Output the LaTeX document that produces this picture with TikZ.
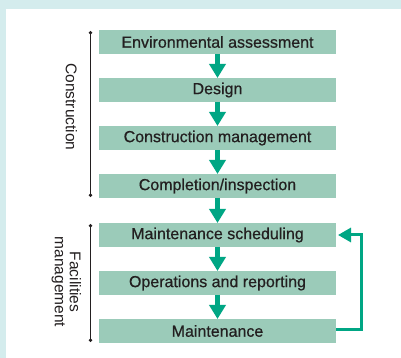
\documentclass[tikz,border=0pt]{standalone}
\usepackage{fontspec}
\setmainfont{Liberation Sans}
\newfontfamily\boxfont[FakeBold=0.6]{Liberation Sans}
\usetikzlibrary{arrows.meta}
\definecolor{bgcyan}{RGB}{212,236,237}
\definecolor{boxgreen}{RGB}{155,203,185}
\definecolor{arrowgreen}{RGB}{0,166,132}
\definecolor{inkgray}{RGB}{35,31,32}

\begin{document}
\begin{tikzpicture}[x=1pt, y=1pt,
  stage/.style={fill=boxgreen, minimum width=237pt, minimum height=24pt, inner sep=0pt, outer sep=0pt, text=inkgray, font=\boxfont\fontsize{16}{18}\selectfont},
  flow/.style={arrowgreen, line width=5pt, -{Triangle[width=16pt,length=14pt]}},
  loopback/.style={arrowgreen, line width=3pt, -{Triangle[width=14pt,length=13pt]}},
  phase/.style={text=inkgray, rotate=-90, align=center, font=\fontsize{15.5}{15}\selectfont},
  bracket/.style={inkgray, line width=1pt, {Circle[length=3.5pt]}-{Circle[length=3.5pt]}}]
\fill[bgcyan] (0,0) rectangle (401,358);
\fill[white] (6,0) rectangle (401,349);
\useasboundingbox (0,0) rectangle (401,358);
\node[stage] (env) at (217.5,316) {Environmental assessment};
\node[stage] (design) at (217.5,268) {Design};
\node[stage] (cmgmt) at (217.5,220) {Construction management};
\node[stage] (compl) at (217.5,172) {Completion/inspection};
\node[stage] (sched) at (217.5,123) {Maintenance scheduling};
\node[stage] (ops) at (217.5,75) {Operations and reporting};
\node[stage] (maint) at (217.5,27) {Maintenance};
\draw[flow] (env.south) -- (design.north);
\draw[flow] (design.south) -- (cmgmt.north);
\draw[flow] (cmgmt.south) -- (compl.north);
\draw[flow] (compl.south) -- (sched.north);
\draw[flow] (sched.south) -- (ops.north);
\draw[flow] (ops.south) -- (maint.north);
\draw[loopback] ([yshift=1pt]maint.east) -- ++(25,0) |- ([xshift=2pt]sched.east);
\draw[bracket] ([xshift=-8.5pt,yshift=-1pt]env.north west) -- ([xshift=-8.5pt,yshift=1pt]compl.south west);
\draw[bracket] ([xshift=-8.5pt,yshift=-1pt]sched.north west) -- ([xshift=-8.5pt,yshift=1pt]maint.south west);
\node[phase] (constr) at (71.5,251) {Construction};
\node[phase] (facil) at (66.5,76) {Facilities\\management};
\end{tikzpicture}
\end{document}
